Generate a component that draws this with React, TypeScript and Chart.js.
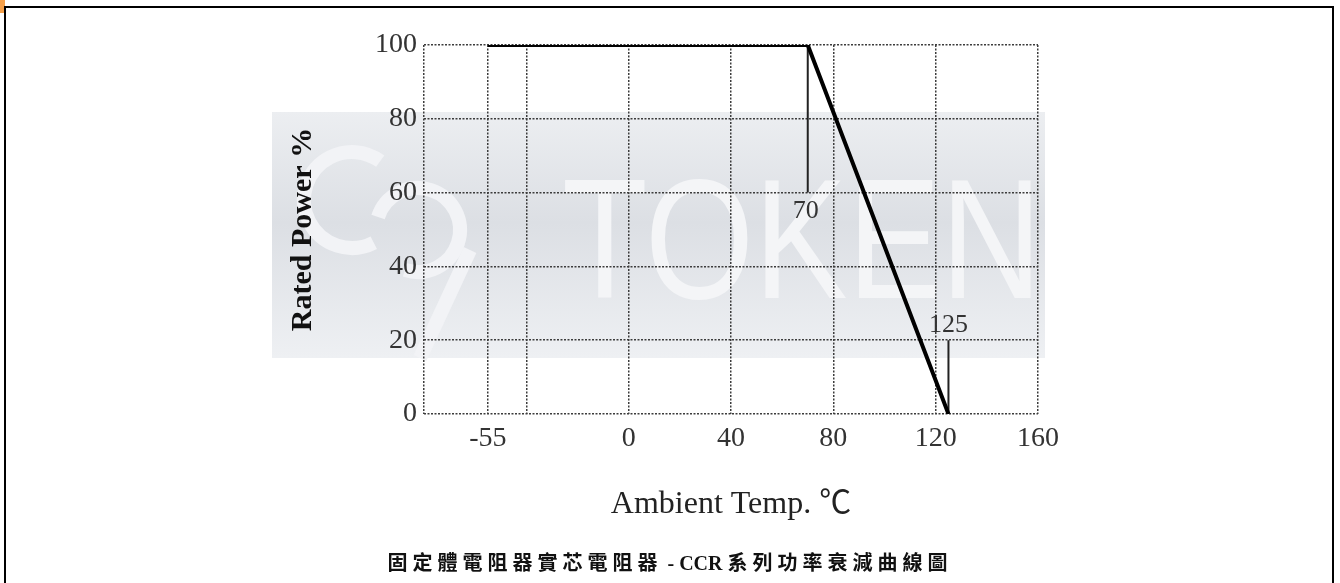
import React, { useEffect, useRef } from "react";
import { Chart, registerables } from "chart.js";

Chart.register(...registerables);

// ---- data ----
const curveTemps = [-55, 70, 125];
const curvePower = [100, 100, 0];
const markerTemps = [70, 125];
const markerFrom = [100, 0];
const markerTo = [60, 20];
const markerLabels = ["70", "125"];
const xGridValues = [-80, -55, -40, 0, 40, 80, 120, 160];
const xLabelValues = [-55, 0, 40, 80, 120, 160];
const yTickValues = [0, 20, 40, 60, 80, 100];
const xTitle = "Ambient Temp. ℃";
const yTitle = "Rated Power %";
const caption = "固定體電阻器實芯電阻器 - CCR 系列功率衰減曲線圖";
const watermarkText = "TOKEN";

const SERIF = '"Liberation Serif", "Times New Roman", "Noto Sans CJK TC", serif';

const watermarkPlugin = {
  id: "watermark",
  beforeDraw(chart: any) {
    const ctx = chart.ctx;
    ctx.save();
    const g = ctx.createLinearGradient(0, 112, 0, 358);
    g.addColorStop(0, "#eceef1");
    g.addColorStop(0.45, "#dcdfe4");
    g.addColorStop(1, "#eef0f3");
    ctx.fillStyle = g;
    ctx.fillRect(272, 112, 773, 246);
    // logo-ish arcs
    ctx.strokeStyle = "#f2f3f6";
    ctx.lineWidth = 14;
    ctx.beginPath();
    ctx.arc(352, 200, 48, Math.PI * 0.35, Math.PI * 1.7);
    ctx.stroke();
    ctx.beginPath();
    ctx.arc(418, 230, 42, Math.PI * 1.1, Math.PI * 2.6);
    ctx.stroke();
    ctx.beginPath();
    ctx.moveTo(470, 250);
    ctx.lineTo(420, 358);
    ctx.stroke();
    // TOKEN letters
    ctx.font = '170px "Liberation Sans", Arial, sans-serif';
    ctx.textAlign = "left";
    ctx.textBaseline = "alphabetic";
    ctx.fillStyle = "#f4f5f7";
    ctx.fillText(watermarkText, 562, 298, 480);
    ctx.restore();
  },
};

const markerLabelPlugin = {
  id: "markerLabels",
  afterDatasetsDraw(chart: any) {
    const ctx = chart.ctx;
    const xs = chart.scales.x;
    const ys = chart.scales.y;
    ctx.save();
    ctx.font = `26px ${SERIF}`;
    ctx.fillStyle = "#333";
    ctx.textAlign = "center";
    ctx.textBaseline = "middle";
    markerTemps.forEach((t, i) => {
      const px = xs.getPixelForValue(t);
      const endY = ys.getPixelForValue(markerTo[i]);
      const below = markerTo[i] < markerFrom[i];
      ctx.fillText(markerLabels[i], below ? px - 2 : px, below ? endY + 19 : endY - 15);
    });
    ctx.restore();
  },
};

const captionRuns = caption.match(/[\u3000-\u9fff]+|[^\u3000-\u9fff]+/g) || [caption];

export default function App() {
  const ref = useRef<HTMLCanvasElement | null>(null);

  useEffect(() => {
    if (!ref.current) return;
    const gridStyle = { color: "#3c3c3c", lineWidth: 1.5, drawTicks: false };
    const borderStyle = { display: false, dash: [2, 1.5] };
    const chart = new Chart(ref.current, {
      type: "line",
      data: {
        datasets: [
          {
            data: curveTemps.map((x, i) => ({ x, y: curvePower[i] })),
            borderColor: "#000",
            borderWidth: 4,
            pointRadius: 0,
            fill: false,
            tension: 0,
          },
          ...markerTemps.map((t, i) => ({
            data: [
              { x: t, y: markerFrom[i] },
              { x: t, y: markerTo[i] },
            ],
            borderColor: "#222",
            borderWidth: 2,
            pointRadius: 0,
            fill: false,
          })),
        ],
      },
      options: {
        responsive: false,
        animation: false,
        events: [],
        layout: { padding: { left: 285, right: 302, top: 45, bottom: 59 } },
        plugins: { legend: { display: false }, tooltip: { enabled: false } },
        scales: {
          x: {
            type: "linear",
            min: -80,
            max: 160,
            afterBuildTicks: (s: any) => {
              s.ticks = xGridValues.map((v) => ({ value: v }));
            },
            afterFit: (s: any) => {
              s.height = 110;
            },
            ticks: {
              autoSkip: false,
              maxRotation: 0,
              padding: 8,
              color: "#333",
              font: { family: SERIF, size: 28 },
              callback: (v: any) => (xLabelValues.includes(Number(v)) ? String(v) : ""),
            },
            grid: gridStyle,
            border: borderStyle,
            title: {
              display: true,
              text: xTitle,
              color: "#222",
              font: { family: SERIF, size: 32 },
              padding: { top: 0, bottom: 0 },
            },
          },
          y: {
            type: "linear",
            min: 0,
            max: 100,
            afterBuildTicks: (s: any) => {
              s.ticks = yTickValues.map((v) => ({ value: v }));
            },
            afterFit: (s: any) => {
              s.width = 139;
            },
            ticks: {
              padding: 7,
              color: "#333",
              font: { family: SERIF, size: 28 },
            },
            grid: gridStyle,
            border: borderStyle,
            title: {
              display: true,
              text: yTitle,
              color: "#111",
              font: { family: SERIF, size: 30, weight: "bold" },
              padding: { top: 0, bottom: 0 },
            },
          },
        },
      },
      plugins: [watermarkPlugin, markerLabelPlugin],
    } as any);
    return () => chart.destroy();
  }, []);

  return (
    <div
      style={{
        position: "fixed",
        left: 0,
        top: 0,
        width: 1340,
        height: 583,
        background: "#fff",
        overflow: "hidden",
      }}
    >
      <div
        style={{
          position: "absolute",
          left: 0,
          top: 0,
          width: 5,
          height: 13,
          background: "#f5a04a",
        }}
      />
      <div
        style={{
          position: "absolute",
          left: 4,
          top: 6,
          width: 1330,
          height: 640,
          border: "2px solid #000",
          boxSizing: "border-box",
        }}
      />
      <canvas
        ref={ref}
        width={1340}
        height={583}
        style={{ position: "absolute", left: 0, top: 0, width: 1340, height: 583 }}
      />
      <div
        style={{
          position: "absolute",
          left: 0,
          top: 551,
          width: 1340,
          textAlign: "center",
          fontFamily: '"Liberation Serif", "Noto Sans CJK TC", serif',
          fontWeight: "bold",
          fontSize: 20,
          lineHeight: "24px",
          color: "#111",
          whiteSpace: "pre",
        }}
      >
        {captionRuns.map((run, i) => (
          <span key={i} style={{ letterSpacing: /[\u3000-\u9fff]/.test(run) ? 5 : 0 }}>
            {run}
          </span>
        ))}
      </div>
    </div>
  );
}
